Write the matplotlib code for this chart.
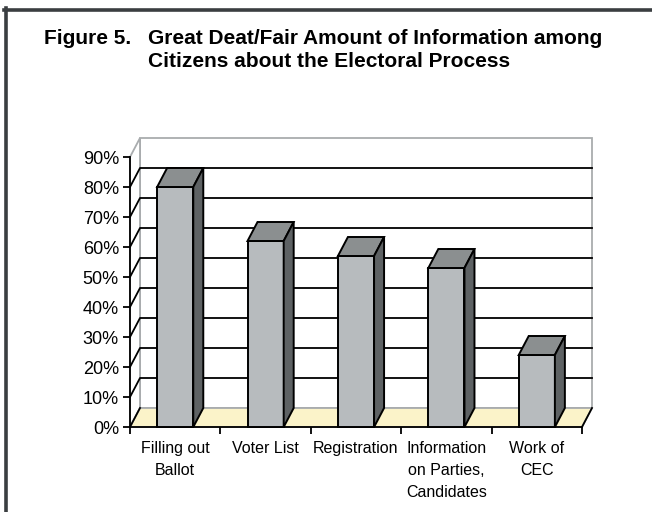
import matplotlib.pyplot as plt
import matplotlib.patches as patches
from matplotlib.lines import Line2D

plt.rcParams['font.family'] = ['Liberation Sans', 'DejaVu Sans']

# Survey results
categories = ["Filling out\nBallot", "Voter List", "Registration",
              "Information\non Parties,\nCandidates", "Work of\nCEC"]
values = [80, 62, 57, 53, 24]
yticks = [0, 10, 20, 30, 40, 50, 60, 70, 80, 90]
ytick_labels = [f"{t}%" for t in yticks]

W, H = 652, 512
fig = plt.figure(figsize=(W / 100, H / 100), dpi=100)
fig.patch.set_facecolor('white')

# Page frame (top and left rule)
frame_col = '#3a3e41'
fig.add_artist(Line2D([4 / W, 1], [1 - 9.5 / H, 1 - 9.5 / H], color=frame_col, lw=2.6))
fig.add_artist(Line2D([5.5 / W, 5.5 / W], [0, 1 - 8 / H], color=frame_col, lw=2.6))

# Title
fig.text(44 / W, 1 - 44 / H, "Figure 5.", fontsize=15, fontweight='bold', va='baseline')
fig.text(148 / W, 1 - 44 / H, "Great Deat/Fair Amount of Information among",
         fontsize=15, fontweight='bold', va='baseline')
fig.text(148 / W, 1 - 67 / H, "Citizens about the Electoral Process",
         fontsize=15, fontweight='bold', va='baseline')

# Plot area
ax = fig.add_axes([130 / W, (H - 427) / H, 452 / W, 270 / H])
ax.set_xlim(0, len(values))
ax.set_ylim(0, 90)
ax.set_facecolor('none')
for s in ['top', 'right']:
    ax.spines[s].set_visible(False)
for s in ['left', 'bottom']:
    ax.spines[s].set_linewidth(1.3)
    ax.spines[s].set_color('black')

# depth of the 3-D box, in data units (10 px right, 19 px up)
dx = 10 / (452 / len(values))
dy = 19 / (270 / 90)
n = len(values)

wall_edge = '#a9acae'
back = patches.Polygon([(dx, dy), (n + dx, dy), (n + dx, 90 + dy), (dx, 90 + dy)],
                       closed=True, facecolor='white', edgecolor=wall_edge, lw=1.3,
                       zorder=0.5, clip_on=False)
side = patches.Polygon([(0, 0), (dx, dy), (dx, 90 + dy), (0, 90)],
                       closed=True, facecolor='white', edgecolor=wall_edge, lw=1.3,
                       zorder=0.5, clip_on=False)
floor = patches.Polygon([(0, 0), (n, 0), (n + dx, dy), (dx, dy)],
                        closed=True, facecolor='#fbf3c9', edgecolor=wall_edge, lw=1.3,
                        zorder=0.6, clip_on=False)
for p in (back, side, floor):
    ax.add_patch(p)
ax.plot([0, dx], [0, dy], color='black', lw=1.3, zorder=0.7, clip_on=False)
ax.plot([n, n + dx], [0, dy], color='black', lw=1.3, zorder=0.7, clip_on=False)

# gridlines on side and back walls
for t in yticks[1:-1]:
    ax.plot([0, dx, n + dx], [t, t + dy, t + dy], color='black', lw=1.3,
            zorder=0.8, clip_on=False)

# 3-D columns
bw = 0.4
front_col, top_col, side_col = '#b7bbbe', '#8b8f90', '#5e6264'
for i, v in enumerate(values):
    x0 = i + 0.5 - bw / 2
    x1 = x0 + bw
    ax.add_patch(patches.Rectangle((x0, 0), bw, v, facecolor=front_col,
                                   edgecolor='black', lw=1.4, zorder=3, clip_on=False))
    ax.add_patch(patches.Polygon([(x0, v), (x1, v), (x1 + dx, v + dy), (x0 + dx, v + dy)],
                                 closed=True, facecolor=top_col, edgecolor='black',
                                 lw=1.4, zorder=3, clip_on=False))
    ax.add_patch(patches.Polygon([(x1, 0), (x1 + dx, dy), (x1 + dx, v + dy), (x1, v)],
                                 closed=True, facecolor=side_col, edgecolor='black',
                                 lw=1.4, zorder=3, clip_on=False))

# axes ticks and labels
ax.set_yticks(yticks)
ax.set_yticklabels(ytick_labels)
ax.tick_params(axis='y', direction='out', length=5, width=1.3, labelsize=13, pad=3)

ax.set_xticks(range(n + 1))
ax.set_xticklabels([])
ax.set_xticks([i + 0.5 for i in range(n)], minor=True)
ax.set_xticklabels(categories, minor=True, linespacing=1.6)
ax.tick_params(axis='x', which='major', direction='out', length=5, width=1.3)
ax.tick_params(axis='x', which='minor', length=0, labelsize=11.5, pad=10)

fig.savefig('out.png', dpi=100)
